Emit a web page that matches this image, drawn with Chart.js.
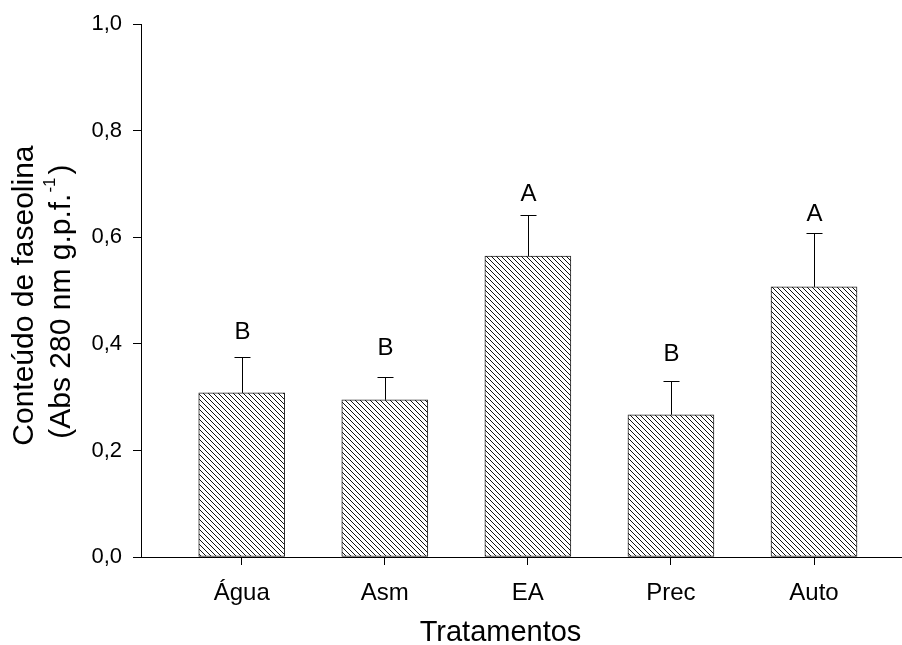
<!DOCTYPE html>
<html><head><meta charset="utf-8">
<script src="https://cdn.jsdelivr.net/npm/chart.js@4/dist/chart.umd.min.js"></script>
<style>html,body{margin:0;padding:0;background:#fff}#wrap{width:902px;height:645px}</style>
</head><body><div id="wrap"><canvas id="c" width="902" height="645"></canvas></div>
<script>
const categories = ['Água', 'Asm', 'EA', 'Prec', 'Auto'];
const means = [0.308, 0.295, 0.565, 0.267, 0.507];
const errors = [0.067, 0.042, 0.076, 0.064, 0.102];
const letters = ['B', 'B', 'A', 'B', 'A'];
const letterPos = [0.409, 0.379, 0.669, 0.367, 0.631];
const yTickValues = [0, 0.2, 0.4, 0.6, 0.8, 1.0];
const xTitle = 'Tratamentos';
const yTitleLine1 = 'Conteúdo de faseolina';
const yTitleLine2 = ['(Abs 280 nm g.p.f.', '-1', ')'];

const FONT = '"Liberation Sans", Arial, sans-serif';
Chart.defaults.color = '#000';
Chart.defaults.font.family = FONT;

const canvas = document.getElementById('c');
const ctx0 = canvas.getContext('2d');
function hatchPattern() {
  const s = 5;
  const c = document.createElement('canvas');
  c.width = s; c.height = s;
  const g = c.getContext('2d');
  g.fillStyle = '#fff'; g.fillRect(0, 0, s, s);
  g.strokeStyle = '#111'; g.lineWidth = 1;
  g.beginPath();
  g.moveTo(0, 0); g.lineTo(s, s);
  g.moveTo(-1, s - 1); g.lineTo(1, s + 1);
  g.moveTo(s - 1, -1); g.lineTo(s + 1, 1);
  g.stroke();
  return ctx0.createPattern(c, 'repeat');
}

const deco = {
  id: 'deco',
  afterDatasetsDraw(chart) {
    const {ctx, scales: {x, y}, chartArea} = chart;
    ctx.save();
    ctx.strokeStyle = '#000';
    ctx.lineWidth = 1;
    ctx.fillStyle = '#000';
    means.forEach((m, i) => {
      const px = Math.round(x.getPixelForValue(i + 1)) + 0.5;
      const y0 = y.getPixelForValue(m);
      const y1 = Math.round(y.getPixelForValue(m + errors[i])) + 0.5;
      ctx.beginPath();
      ctx.moveTo(px, y0); ctx.lineTo(px, y1);
      ctx.moveTo(px - 8, y1); ctx.lineTo(px + 8, y1);
      ctx.stroke();
      ctx.font = '24px ' + FONT;
      ctx.textAlign = 'center';
      ctx.textBaseline = 'alphabetic';
      ctx.fillText(letters[i], px, y.getPixelForValue(letterPos[i]));
    });
    // x title
    ctx.font = '29px ' + FONT;
    ctx.textAlign = 'center';
    ctx.textBaseline = 'alphabetic';
    ctx.fillText(xTitle, (chartArea.left + chartArea.right) / 2 - 21, 641);
    // y title
    const cy = (chartArea.top + chartArea.bottom) / 2 + 5;
    ctx.translate(33, cy);
    ctx.rotate(-Math.PI / 2);
    ctx.font = '30px ' + FONT;
    ctx.fillText(yTitleLine1, 0, 0);
    ctx.textAlign = 'left';
    const f = '30px ' + FONT, fs = '17px ' + FONT;
    ctx.font = f; const w1 = ctx.measureText(yTitleLine2[0]).width;
    ctx.font = fs; const w2 = ctx.measureText(yTitleLine2[1]).width;
    ctx.font = f; const w3 = ctx.measureText(yTitleLine2[2]).width;
    let sx = -(w1 + w2 + w3 + 4) / 2 - 6;
    const by = 37;
    ctx.font = f; ctx.fillText(yTitleLine2[0], sx, by); sx += w1 + 1;
    ctx.font = fs; ctx.fillText(yTitleLine2[1], sx, by - 15); sx += w2 + 3;
    ctx.font = f; ctx.fillText(yTitleLine2[2], sx, by);
    ctx.restore();
  }
};

new Chart(canvas, {
  type: 'bar',
  data: {
    datasets: [{
      data: means.map((v, i) => ({x: i + 1, y: v})),
      backgroundColor: hatchPattern(),
      borderColor: '#222',
      borderWidth: 1,
      borderSkipped: false,
      barThickness: 86
    }]
  },
  options: {
    responsive: false,
    animation: false,
    devicePixelRatio: 1,
    layout: {padding: {left: 0, right: 0, top: 22, bottom: 0}},
    plugins: {legend: {display: false}, tooltip: {enabled: false}, title: {display: false}},
    scales: {
      x: {
        type: 'linear',
        offset: false,
        min: 0.296,
        max: 5.615,
        z: 1,
        afterBuildTicks: (s) => { s.ticks = categories.map((c, i) => ({value: i + 1})); },
        afterFit: (s) => { s.height = 88; s.paddingRight = 0; },
        ticks: {
          autoSkip: false,
          maxRotation: 0,
          padding: 14,
          font: {size: 24, family: FONT},
          callback: (v) => categories[v - 1]
        },
        grid: {offset: false, drawOnChartArea: false, drawTicks: true, tickLength: 8, color: '#000'},
        border: {display: true, color: '#000', width: 1}
      },
      y: {
        min: 0,
        max: 1,
        z: 1,
        afterBuildTicks: (s) => { s.ticks = yTickValues.map(v => ({value: v})); },
        afterFit: (s) => { s.width = 141; },
        ticks: {
          padding: 11,
          font: {size: 22, family: FONT},
          callback: (v) => v.toFixed(1).replace('.', ',')
        },
        grid: {drawOnChartArea: false, drawTicks: true, tickLength: 8, color: '#000'},
        border: {display: true, color: '#000', width: 1}
      }
    }
  },
  plugins: [deco]
});
</script></body></html>
